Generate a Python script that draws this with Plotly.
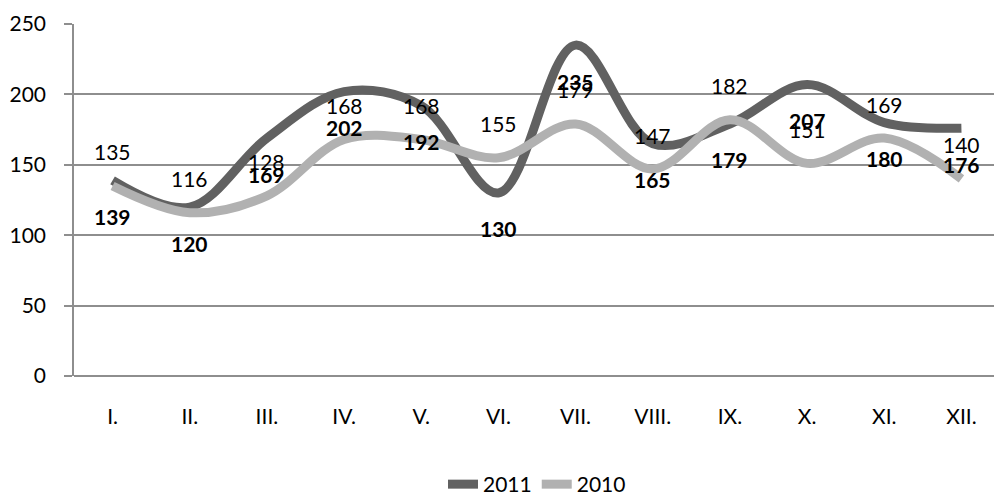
import plotly.graph_objects as go

months = ["I.", "II.", "III.", "IV.", "V.", "VI.", "VII.", "VIII.", "IX.", "X.", "XI.", "XII."]
values_2011 = [139, 120, 169, 202, 192, 130, 235, 165, 179, 207, 180, 176]
values_2010 = [135, 116, 128, 168, 168, 155, 179, 147, 182, 151, 169, 140]
y_ticks = [0, 50, 100, 150, 200, 250]

FONT = "Lato, 'Open Sans', sans-serif"
DARK = "#616161"
LIGHT = "#b1b1b1"
GRID = "#8e8e8e"
FS = 21

fig = go.Figure()
fig.add_trace(go.Scatter(x=months, y=values_2011, name="2011", mode="lines",
                         line=dict(color=DARK, width=9, shape="spline", smoothing=1.0)))
fig.add_trace(go.Scatter(x=months, y=values_2010, name="2010", mode="lines",
                         line=dict(color=LIGHT, width=9, shape="spline", smoothing=1.0)))

annotations = []
for m, v in zip(months, values_2010):
    annotations.append(dict(x=m, y=v, text=str(v), showarrow=False, yshift=34,
                            font=dict(family=FONT, size=FS, color="#000000")))
for m, v in zip(months, values_2011):
    annotations.append(dict(x=m, y=v, text="<b>%d</b>" % v, showarrow=False, yshift=-36,
                            font=dict(family=FONT, size=FS, color="#000000")))

fig.update_layout(
    width=994, height=487,
    margin=dict(l=66, r=2, t=16, b=119, autoexpand=False),
    paper_bgcolor="white", plot_bgcolor="white",
    font=dict(family=FONT, size=FS, color="#000000"),
    showlegend=True,
    legend=dict(orientation="h", x=0.5, xanchor="center", y=-0.25, yanchor="top",
                font=dict(family=FONT, size=FS), tracegroupgap=0),
    annotations=annotations,
    xaxis=dict(type="category", categoryorder="array", categoryarray=months,
               range=[-0.5, 11.5], showgrid=False, showline=False, zeroline=False,
               ticks="", ticklabelstandoff=26, automargin=False,
               tickfont=dict(family=FONT, size=FS)),
    yaxis=dict(range=[0, 250], tickvals=y_ticks, showgrid=True, gridcolor=GRID, gridwidth=1.5,
               showline=True, linecolor=GRID, linewidth=1.5, zeroline=True,
               zerolinecolor=GRID, zerolinewidth=1.5, automargin=False,
               ticks="outside", ticklen=8, tickcolor=GRID, tickwidth=1.5,
               tickfont=dict(family=FONT, size=FS), ticklabelstandoff=14),
)

fig.write_html("out.html")
